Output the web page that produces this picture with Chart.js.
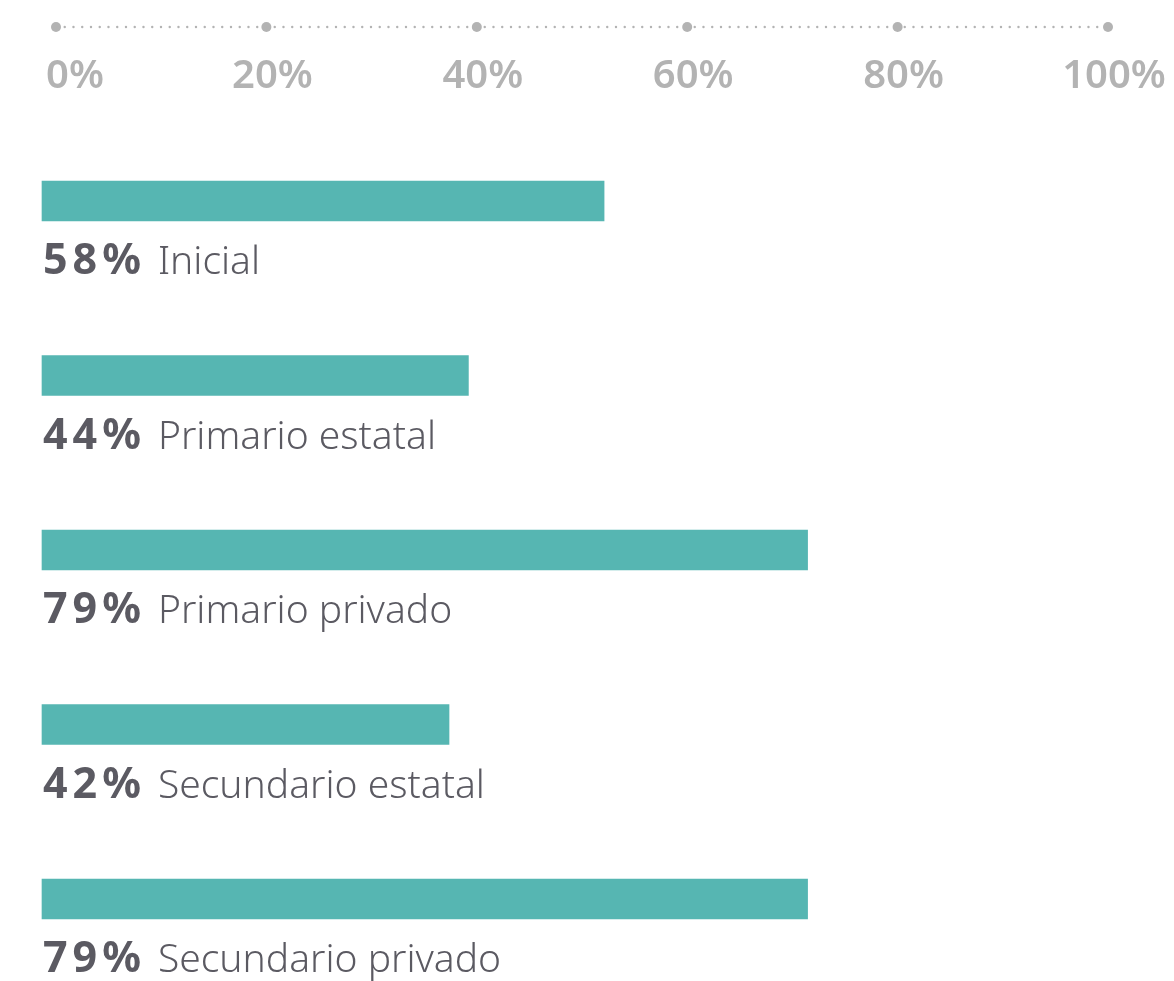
<!DOCTYPE html>
<html>
<head>
<meta charset="utf-8">
<script src="https://cdn.jsdelivr.net/npm/chart.js@4/dist/chart.umd.min.js"></script>
<style>
  html, body { margin: 0; padding: 0; background: #fff; }
  #wrap { width: 1174px; height: 981px; }
</style>
</head>
<body>
<div id="wrap"><canvas id="nivelChart"></canvas></div>
<script>
const categories = ['Inicial', 'Primario estatal', 'Primario privado', 'Secundario estatal', 'Secundario privado'];
const values = [58, 44, 79, 42, 79];
const tickValues = [0, 20, 40, 60, 80, 100];
const tickLabels = ['0%', '20%', '40%', '60%', '80%', '100%'];

const theme = {
    bar: '#56b6b2',
    axis: '#b3b3b3',
    text: '#5b5a62',
};

// dotted scale along the top, with a bigger dot on every tick
const topAxisPlugin = {
    id: 'topAxis',
    afterDraw(chart) {
        const ctx = chart.ctx;
        const scale = chart.scales.xTop;
        const y = 27;
        const x0 = scale.getPixelForValue(tickValues[0]);
        const x1 = scale.getPixelForValue(tickValues[tickValues.length - 1]);
        ctx.save();
        ctx.fillStyle = theme.axis;
        for (let x = x0; x <= x1; x += 8.75) {
            ctx.beginPath();
            ctx.arc(x, y, 1.2, 0, Math.PI * 2);
            ctx.fill();
        }
        ctx.font = '600 40px "Noto Sans"';
        ctx.textAlign = 'center';
        ctx.textBaseline = 'alphabetic';
        tickValues.forEach((v, i) => {
            const x = scale.getPixelForValue(v);
            ctx.beginPath();
            ctx.arc(x, y, 5, 0, Math.PI * 2);
            ctx.fill();
            const shift = i === 0 ? 19 : 6;
            ctx.fillText(tickLabels[i], x + shift, 88);
        });
        ctx.restore();
    }
};

// value + category text under each bar
const barLabelPlugin = {
    id: 'barLabels',
    afterDatasetsDraw(chart) {
        const ctx = chart.ctx;
        const meta = chart.getDatasetMeta(0);
        ctx.save();
        ctx.fillStyle = theme.text;
        ctx.textBaseline = 'alphabetic';
        ctx.textAlign = 'left';
        meta.data.forEach((bar, i) => {
            const x = chart.chartArea.left + 1;
            const y = bar.y + 73;
            const num = values[i] + '%';
            ctx.font = '700 43px "Noto Sans"';
            ctx.letterSpacing = '5px';
            ctx.fillText(num, x, y);
            const w = ctx.measureText(num).width;
            ctx.letterSpacing = '0px';
            ctx.font = '300 39px "Noto Sans"';
            ctx.fillText(categories[i], x + w + 12, y);
        });
        ctx.restore();
    }
};

const ctx = document.getElementById('nivelChart').getContext('2d');
new Chart(ctx, {
    type: 'bar',
    data: {
        labels: categories,
        datasets: [{
            data: values,
            backgroundColor: theme.bar,
            borderWidth: 0,
            barThickness: 40,
            clip: false,
            xAxisID: 'x',
        }]
    },
    options: {
        indexAxis: 'y',
        responsive: true,
        maintainAspectRatio: false,
        animation: false,
        layout: {
            padding: { left: 42, right: 66, top: 201, bottom: 82 }
        },
        scales: {
            x: {
                display: false,
                min: 0,
                max: 110,
            },
            xTop: {
                display: false,
                position: 'top',
                min: -1.33,
                max: 100,
            },
            y: {
                display: false,
                offset: false,
            }
        },
        plugins: {
            legend: { display: false },
            tooltip: { enabled: false }
        }
    },
    plugins: [topAxisPlugin, barLabelPlugin]
});
</script>
</body>
</html>
